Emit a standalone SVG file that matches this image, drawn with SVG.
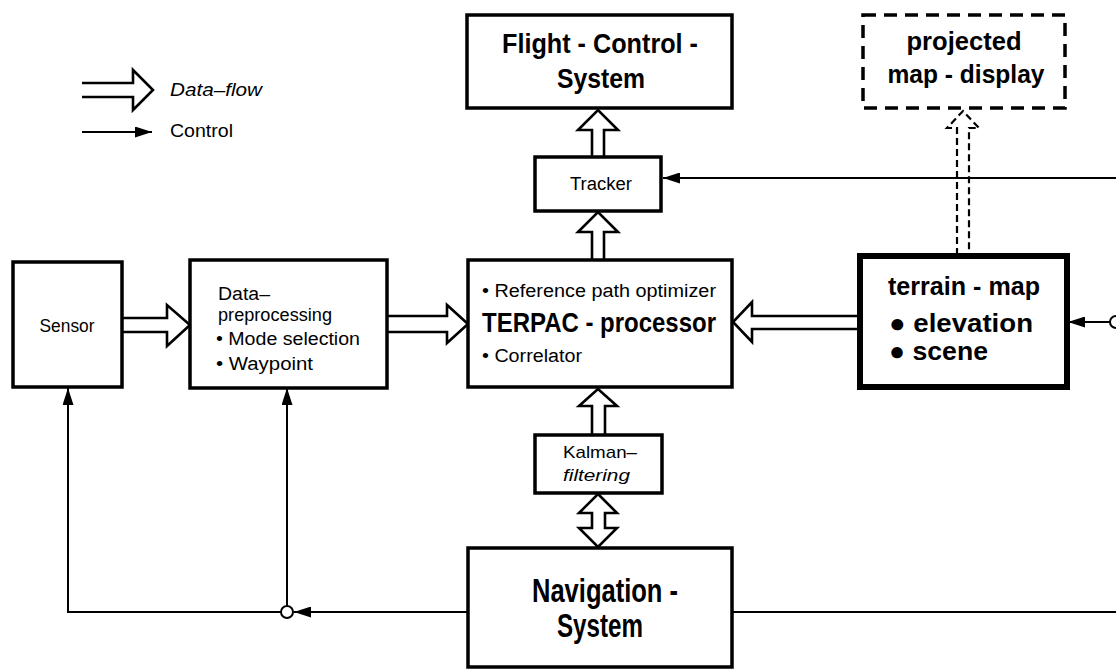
<svg xmlns="http://www.w3.org/2000/svg" width="1116" height="672" viewBox="0 0 1116 672">
<style>
.box{fill:#fff;stroke:#000;stroke-width:3.5}
.thick{fill:#fff;stroke:#000;stroke-width:6}
.dbox{fill:#fff;stroke:#000;stroke-width:3.5;stroke-dasharray:13 8}
.flow{fill:#fff;stroke:#000;stroke-width:2.6;stroke-linejoin:miter}
.ctl{fill:none;stroke:#000;stroke-width:2}
.dash{fill:none;stroke:#000;stroke-width:2.2;stroke-dasharray:7 4}
.t{font-family:"Liberation Sans",Arial,sans-serif;fill:#000}
.b{font-family:"Liberation Sans",Arial,sans-serif;font-weight:bold;fill:#000}
</style>
<defs>
<marker id="ah" markerUnits="userSpaceOnUse" markerWidth="17" markerHeight="11" refX="17" refY="5.5" orient="auto">
<path d="M0,0 L17,5.5 L0,11 z" fill="#000"/>
</marker>
</defs>
<rect width="1116" height="672" fill="#fff"/>

<g id="legend">
<path class="flow" d="M82,83 L133,83 L133,70 L153,90 L133,110 L133,97 L82,97" fill="none"/>
<text class="t" x="170" y="96" font-size="19" font-style="italic" textLength="92" lengthAdjust="spacingAndGlyphs">Data–flow</text>
<line class="ctl" x1="82" y1="132" x2="152" y2="132" marker-end="url(#ah)"/>
<text class="t" x="170" y="137" font-size="18" textLength="63" lengthAdjust="spacingAndGlyphs">Control</text>
</g>

<g id="connectors">
<path class="flow" d="M592,157 L592,130 L578,130 L598,110 L618,130 L604,130 L604,157"/>
<path class="flow" d="M592,260 L592,232 L578,232 L598,212 L618,232 L604,232 L604,260"/>
<path class="flow" d="M592,435 L592,406 L579,406 L598,389 L617,406 L605,406 L605,435"/>
<path class="flow" d="M598,494 L617,513 L605,513 L605,528 L617,528 L598,547 L579,528 L592,528 L592,513 L579,513 Z"/>
<path class="flow" d="M122,318 L167,318 L167,305 L190,325 L167,346 L167,332 L122,332"/>
<path class="flow" d="M387,316 L447,316 L447,305 L468,324 L447,343 L447,332 L387,332"/>
<path class="flow" d="M860,316 L752,316 L752,302 L733,322 L752,342 L752,329 L860,329"/>
<path class="dash" d="M957,255 L957,128 L947,128 L963,111 L979,128 L969,128 L969,255"/>
<line class="ctl" x1="1116" y1="178" x2="663" y2="178" marker-end="url(#ah)"/>
<line class="ctl" x1="1110" y1="322" x2="1068" y2="322" marker-end="url(#ah)"/>
<circle cx="1116" cy="322" r="6" fill="#fff" stroke="#000" stroke-width="2"/>
<line class="ctl" x1="468" y1="612" x2="294" y2="612" marker-end="url(#ah)"/>
<path class="ctl" d="M281,612 L68,612 L68,388" marker-end="url(#ah)"/>
<line class="ctl" x1="287" y1="606" x2="287" y2="388" marker-end="url(#ah)"/>
<circle cx="287" cy="612" r="6" fill="#fff" stroke="#000" stroke-width="2"/>
<line class="ctl" x1="732" y1="612" x2="1116" y2="612"/>
</g>

<g id="flight-control-system">
<rect class="box" x="467" y="15" width="265" height="93"/>
<text class="b" x="600" y="53" font-size="28" text-anchor="middle" textLength="196" lengthAdjust="spacingAndGlyphs">Flight - Control -</text>
<text class="b" x="601" y="88" font-size="28" text-anchor="middle" textLength="88" lengthAdjust="spacingAndGlyphs">System</text>
</g>

<g id="projected-map-display">
<rect class="dbox" x="863" y="15" width="202" height="93"/>
<text class="b" x="964" y="50" font-size="26" text-anchor="middle" textLength="115" lengthAdjust="spacingAndGlyphs">projected</text>
<text class="b" x="966" y="83" font-size="26" text-anchor="middle" textLength="157" lengthAdjust="spacingAndGlyphs">map - display</text>
</g>

<g id="tracker">
<rect class="box" x="535" y="157" width="126" height="54"/>
<text class="t" x="601" y="190" font-size="18" text-anchor="middle" textLength="62" lengthAdjust="spacingAndGlyphs">Tracker</text>
</g>

<g id="sensor">
<rect class="box" x="13" y="262" width="109" height="125"/>
<text class="t" x="67" y="332" font-size="18" text-anchor="middle" textLength="55" lengthAdjust="spacingAndGlyphs">Sensor</text>
</g>

<g id="data-preprocessing">
<rect class="box" x="190" y="260" width="197" height="128"/>
<text class="t" x="218" y="300" font-size="18" textLength="52" lengthAdjust="spacingAndGlyphs">Data–</text>
<text class="t" x="218" y="321" font-size="18" textLength="114" lengthAdjust="spacingAndGlyphs">preprocessing</text>
<text class="t" x="216" y="345" font-size="18" textLength="144" lengthAdjust="spacingAndGlyphs">• Mode selection</text>
<text class="t" x="216" y="370" font-size="18" textLength="97" lengthAdjust="spacingAndGlyphs">• Waypoint</text>
</g>

<g id="terpac-processor">
<rect class="box" x="468" y="260" width="264" height="127"/>
<text class="t" x="482" y="297" font-size="18" textLength="234" lengthAdjust="spacingAndGlyphs">• Reference path optimizer</text>
<text class="b" x="482" y="332" font-size="28" textLength="234" lengthAdjust="spacingAndGlyphs">TERPAC - processor</text>
<text class="t" x="482" y="362" font-size="18" textLength="100" lengthAdjust="spacingAndGlyphs">• Correlator</text>
</g>

<g id="terrain-map">
<rect class="thick" x="860" y="256" width="207" height="131"/>
<text class="b" x="888" y="295" font-size="26" textLength="152" lengthAdjust="spacingAndGlyphs">terrain - map</text>
<text class="b" x="889" y="332" font-size="26" textLength="144" lengthAdjust="spacingAndGlyphs">● elevation</text>
<text class="b" x="889" y="360" font-size="26" textLength="99" lengthAdjust="spacingAndGlyphs">● scene</text>
</g>

<g id="kalman-filtering">
<rect class="box" x="535" y="435" width="127" height="58"/>
<text class="t" x="563" y="458" font-size="17" textLength="74" lengthAdjust="spacingAndGlyphs">Kalman–</text>
<text class="t" x="563" y="481" font-size="17" font-style="italic" textLength="67" lengthAdjust="spacingAndGlyphs">filtering</text>
</g>

<g id="navigation-system">
<rect class="box" x="468" y="548" width="264" height="119"/>
<text class="b" x="605" y="602" font-size="33" text-anchor="middle" textLength="146" lengthAdjust="spacingAndGlyphs">Navigation -</text>
<text class="b" x="600" y="637" font-size="33" text-anchor="middle" textLength="86" lengthAdjust="spacingAndGlyphs">System</text>
</g>
</svg>
